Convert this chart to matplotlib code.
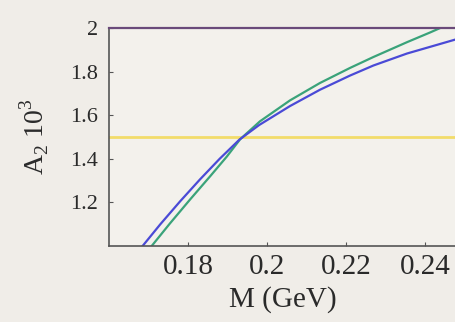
import numpy as np
import matplotlib.pyplot as plt

# values
m_blue = [0.1685, 0.173, 0.178, 0.183, 0.188, 0.193, 0.198, 0.2058, 0.2134, 0.221, 0.2269, 0.2354, 0.2438, 0.2478]
a_blue = [1.00, 1.10, 1.205, 1.305, 1.40, 1.488, 1.555, 1.642, 1.717, 1.782, 1.828, 1.883, 1.927, 1.948]

m_green = [0.1708, 0.1754, 0.1805, 0.1856, 0.1898, 0.1932, 0.1982, 0.2058, 0.2134, 0.221, 0.2269, 0.2354, 0.2413, 0.2438]
a_green = [1.00, 1.103, 1.213, 1.32, 1.41, 1.49, 1.572, 1.668, 1.748, 1.817, 1.867, 1.935, 1.98, 2.00]

a_const = 1.5
xticks = [0.18, 0.2, 0.22, 0.24]
xtick_labels = ["0.18", "0.2", "0.22", "0.24"]
yticks = [1.2, 1.4, 1.6, 1.8, 2.0]
ytick_labels = ["1.2", "1.4", "1.6", "1.8", "2"]

plt.rcParams['font.family'] = 'serif'
plt.rcParams['font.serif'] = ['Liberation Serif', 'Nimbus Roman', 'Times New Roman', 'DejaVu Serif']
plt.rcParams['mathtext.fontset'] = 'custom'
plt.rcParams['mathtext.rm'] = 'Liberation Serif'

bg = "#f0ede8"
fig = plt.figure(figsize=(4.56, 3.22), dpi=100, facecolor=bg)
ax = fig.add_axes([0.239, 0.236, 0.761, 0.677], facecolor="#f3f1ec")

ax.axhline(a_const, color="#f2dc6a", lw=2.0)
ax.plot(m_green, a_green, color="#3aa37a", lw=1.6)
ax.plot(m_blue, a_blue, color="#4a4ad6", lw=1.6)

ax.set_xlim(0.16, 0.2478)
ax.set_ylim(1.0, 2.0)
ax.set_xticks(xticks)
ax.set_xticklabels(xtick_labels)
ax.set_yticks(yticks)
ax.set_yticklabels(ytick_labels)
ax.tick_params(direction="in", length=3, colors="#555555", labelcolor="#2a2a2a")
ax.tick_params(axis="x", labelsize=21, pad=6)
ax.tick_params(axis="y", labelsize=16, pad=8)

for s in ["left", "bottom"]:
    ax.spines[s].set_color("#555555")
    ax.spines[s].set_linewidth(1.2)
ax.spines["top"].set_color("#6a4a7a")
ax.spines["top"].set_linewidth(1.6)
ax.spines["right"].set_visible(False)

ax.set_xlabel("M (GeV)", fontsize=21, color="#2a2a2a", labelpad=4)
ax.set_ylabel(r"A$_2$ 10$^3$", fontsize=20, color="#2a2a2a", labelpad=14)

fig.savefig("out.png", dpi=100, facecolor=bg)
